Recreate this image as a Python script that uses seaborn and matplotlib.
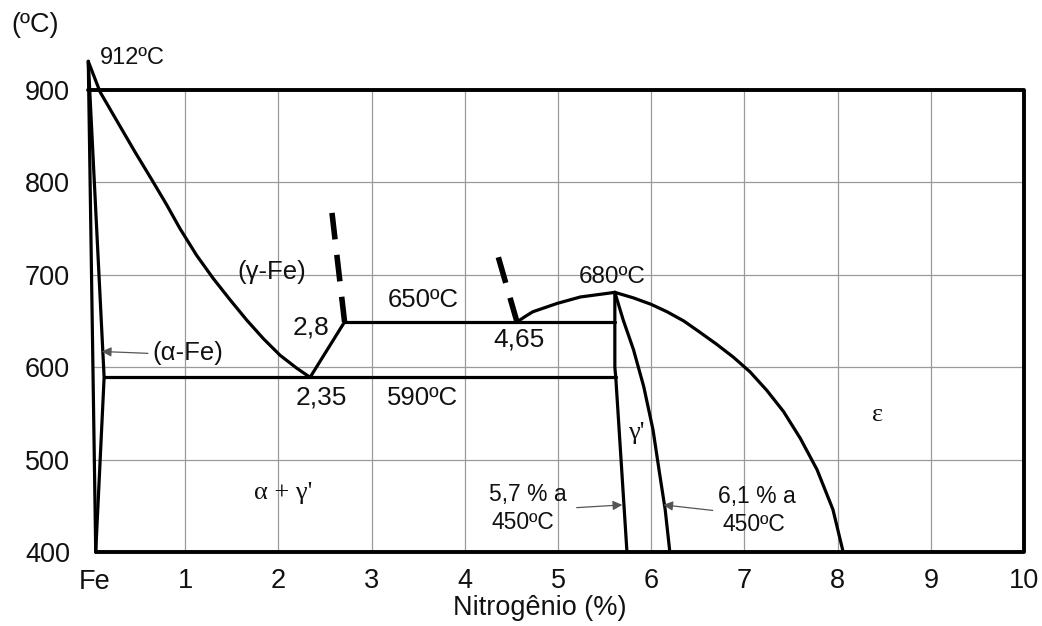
import matplotlib
matplotlib.use("Agg")
import matplotlib.pyplot as plt
import seaborn as sns

sns.set_theme(style="white")
plt.rcParams['font.family'] = ['Liberation Sans', 'DejaVu Sans']

# ---- data (wt% N, temperature °C) ----
fe_line_x = [-0.04, 0.04]
fe_line_y = [931, 400]

alpha_x = [-0.04, 0.13, 0.04]
alpha_y = [931, 589, 400]

gamma_x = [-0.04, 0.086, 0.282, 0.461, 0.641, 0.80, 0.944, 1.123, 1.301, 1.481,
           1.660, 1.838, 2.017, 2.196, 2.34]
gamma_y = [931, 898, 864, 833, 803, 776, 750, 721, 696, 673, 651, 631, 613, 599, 589]

eut_x = [2.34, 2.71]
eut_y = [589, 649]

iso650_x = [2.71, 5.61]
iso650_y = [649, 649]

iso590_x = [0.13, 5.62]
iso590_y = [589, 589]

arc_x = [4.56, 4.65, 4.73, 4.99, 5.24, 5.61]
arc_y = [649, 655, 660, 669, 676, 681]

gp_left_x = [5.61, 5.61, 5.62, 5.74]
gp_left_y = [681, 600, 589, 400]

gp_right_x = [5.61, 5.70, 5.81, 5.92, 6.02, 6.09, 6.15, 6.20]
gp_right_y = [681, 651, 619, 579, 532, 485, 446, 400]

eps_x = [5.61, 5.81, 6.00, 6.17, 6.35, 6.52, 6.70, 6.88, 7.06, 7.24, 7.42,
         7.60, 7.78, 7.95, 8.06]
eps_y = [681, 675, 668, 660, 650, 638, 625, 611, 595, 575, 552,
         523, 489, 446, 400]

dash1_x = [2.575, 2.71]
dash1_y = [767, 649]
dash2_x = [4.36, 4.56]
dash2_y = [719, 649]

frame_x = [-0.045, 10.0, 10.0, 0.04]
frame_y = [900, 900, 400, 400]

x_ticks = [1, 2, 3, 4, 5, 6, 7, 8, 9, 10]
x_ticklabels = ['1', '2', '3', '4', '5', '6', '7', '8', '9', '10']
y_ticks = [400, 500, 600, 700, 800, 900]
y_ticklabels = ['400', '500', '600', '700', '800', '900']
grid_x = [1, 2, 3, 4, 5, 6, 7, 8, 9]
grid_y = [500, 600, 700, 800]

fig = plt.figure(figsize=(10.42, 6.26), dpi=100)
ax = fig.add_axes([0.07935, 0.11083, 0.9123, 0.80444])
ax.set_xlim(-0.1, 10.1)
ax.set_ylim(395, 940)
for s in ax.spines.values():
    s.set_visible(False)

# grid
ax.vlines(grid_x, 400, 900, color='#9a9a9a', lw=0.9, zorder=1)
ax.hlines(grid_y, 0.0, 10.0, color='#9a9a9a', lw=0.9, zorder=1)

def line(xs, ys, lw=2.3, **kw):
    sns.lineplot(x=xs, y=ys, sort=False, estimator=None, color='black',
                 lw=lw, ax=ax, legend=False, clip_on=False, zorder=3, **kw)

line(frame_x, frame_y, lw=2.8)
line(fe_line_x, fe_line_y)
line(alpha_x, alpha_y)
line(gamma_x, gamma_y)
line(eut_x, eut_y)
line(iso650_x, iso650_y)
line(iso590_x, iso590_y)
line(arc_x, arc_y)
line(gp_left_x, gp_left_y)
line(gp_right_x, gp_right_y)
line(eps_x, eps_y)
line(dash1_x, dash1_y, lw=4, linestyle=(0, (4.8, 2.8)))
line(dash2_x, dash2_y, lw=4, linestyle=(0, (4.8, 2.8)))

# ticks
ax.set_xticks(x_ticks)
ax.set_xticklabels(x_ticklabels)
ax.set_yticks(y_ticks)
ax.set_yticklabels(y_ticklabels)
ax.tick_params(axis='both', length=0, labelsize=19.5, colors='#111111')
ax.tick_params(axis='x', pad=8)
ax.tick_params(axis='y', pad=9)
ax.text(0.03, 382, 'Fe', fontsize=19.5, ha='center', va='top', color='#111111')

fig.text(540 / 1042, 1 - 608 / 626, 'Nitrogênio (%)', fontsize=19.5,
         ha='center', va='center', color='#111111')
fig.text(35 / 1042, 1 - 25 / 626, '(ºC)', fontsize=19.5,
         ha='center', va='center', color='#111111')

tk = dict(color='#111111', ha='center', va='center')
ax.text(0.086, 935, '912ºC', fontsize=17, color='#111111', ha='left', va='center')
ax.text(1.93, 703, '(γ-Fe)', fontsize=18.5, **tk)
ax.text(2.35, 643, '2,8', fontsize=19, **tk)
ax.text(3.55, 673, '650ºC', fontsize=18.5, **tk)
ax.text(4.58, 630, '4,65', fontsize=19, **tk)
ax.text(5.58, 698, '680ºC', fontsize=17.5, **tk)
ax.text(2.46, 567, '2,35', fontsize=19, **tk)
ax.text(3.55, 567, '590ºC', fontsize=18.5, **tk)
ax.text(1.03, 615, '(α-Fe)', fontsize=18.5, **tk)
ax.text(2.05, 464, "α + γ'", fontsize=19, family=['Liberation Serif'], **tk)
ax.text(5.84, 529, "γ'", fontsize=19, family=['Liberation Serif'], **tk)
ax.text(8.43, 548, "ε", fontsize=19, family=['Liberation Serif'], **tk)
ax.text(4.68, 462, '5,7 % a', fontsize=16.5, **tk)
ax.text(4.62, 432, '450ºC', fontsize=16.5, **tk)
ax.text(7.13, 460, '6,1 % a', fontsize=16.5, **tk)
ax.text(7.10, 430, '450ºC', fontsize=16.5, **tk)

ap = dict(arrowstyle='-|>', color='#555555', lw=0.9, mutation_scale=14,
          shrinkA=0, shrinkB=0)
ax.annotate('', xy=(0.105, 617), xytext=(0.60, 615), arrowprops=ap)
ax.annotate('', xy=(5.69, 451), xytext=(5.20, 448), arrowprops=ap)
ax.annotate('', xy=(6.13, 451), xytext=(6.66, 445), arrowprops=ap)

fig.savefig('out.png', dpi=100, facecolor='white')
